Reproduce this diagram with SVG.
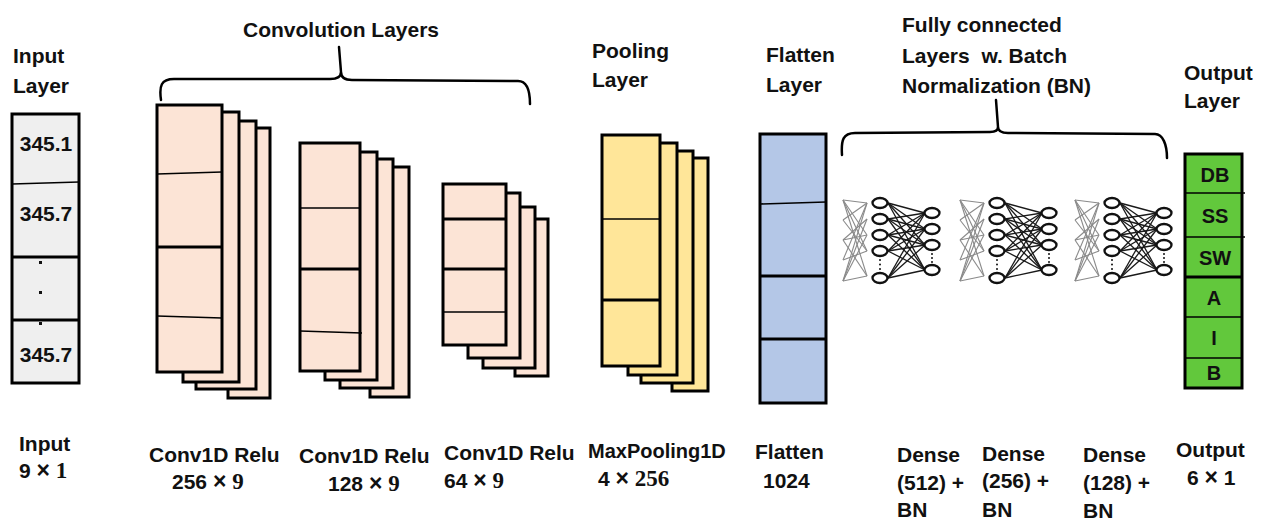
<svg xmlns="http://www.w3.org/2000/svg" xmlns:xlink="http://www.w3.org/1999/xlink" width="1264" height="522" viewBox="0 0 1264 522">
<style>
text{font-family:"Liberation Sans",Arial,sans-serif;font-weight:bold;font-size:21px;fill:#111}
.sr{font-family:"Liberation Serif","Times New Roman",serif;font-size:23px}
.x{font-size:23px}
.box{stroke:#000;stroke-width:3}
.conv{fill:#fce4d6}
.pool{fill:#ffe699}
.flat{fill:#b4c7e7}
.inp{fill:#efefef}
.out{fill:#62c83c}
.thin{stroke:#000;stroke-width:1.6}
.thick{stroke:#000;stroke-width:2.8}
.brace{fill:none;stroke:#000;stroke-width:2.5;stroke-linecap:round;stroke-linejoin:round}
.gf{stroke:#8a8a8a;stroke-width:1.1}
.df{stroke:#1a1a1a;stroke-width:1.3}
.neu{fill:#fff;stroke:#111;stroke-width:2.3}
.ol{font-size:20px;text-anchor:middle}
.il{text-anchor:middle}
</style>
<defs>
<g id="net">
<g class="gf">
<line x1="843" y1="200" x2="867" y2="203"/><line x1="843" y1="200" x2="867" y2="235"/><line x1="843" y1="200" x2="867" y2="276"/>
<line x1="843" y1="220" x2="867" y2="203"/><line x1="843" y1="220" x2="867" y2="251"/>
<line x1="843" y1="240" x2="867" y2="219"/><line x1="843" y1="240" x2="867" y2="235"/><line x1="843" y1="240" x2="867" y2="276"/>
<line x1="843" y1="260" x2="867" y2="203"/><line x1="843" y1="260" x2="867" y2="251"/>
<line x1="843" y1="281" x2="867" y2="219"/><line x1="843" y1="281" x2="867" y2="235"/><line x1="843" y1="281" x2="867" y2="276"/>
<line x1="843" y1="200" x2="867" y2="251"/><line x1="843" y1="281" x2="867" y2="203"/>
</g>
<g class="df">
<line x1="888" y1="203" x2="925" y2="213"/><line x1="888" y1="203" x2="925" y2="229"/><line x1="888" y1="203" x2="925" y2="245"/><line x1="888" y1="203" x2="925" y2="270"/>
<line x1="888" y1="219" x2="925" y2="213"/><line x1="888" y1="219" x2="925" y2="229"/><line x1="888" y1="219" x2="925" y2="245"/><line x1="888" y1="219" x2="925" y2="270"/>
<line x1="888" y1="235" x2="925" y2="213"/><line x1="888" y1="235" x2="925" y2="229"/><line x1="888" y1="235" x2="925" y2="245"/><line x1="888" y1="235" x2="925" y2="270"/>
<line x1="888" y1="251" x2="925" y2="213"/><line x1="888" y1="251" x2="925" y2="229"/><line x1="888" y1="251" x2="925" y2="245"/><line x1="888" y1="251" x2="925" y2="270"/>
<line x1="888" y1="278" x2="925" y2="213"/><line x1="888" y1="278" x2="925" y2="229"/><line x1="888" y1="278" x2="925" y2="245"/><line x1="888" y1="278" x2="925" y2="270"/>
</g>
<ellipse class="neu" cx="880" cy="203" rx="7.5" ry="5"/>
<ellipse class="neu" cx="880" cy="219" rx="7.5" ry="5"/>
<ellipse class="neu" cx="880" cy="235" rx="7.5" ry="5"/>
<ellipse class="neu" cx="880" cy="251" rx="7.5" ry="5"/>
<ellipse class="neu" cx="880" cy="278" rx="7.5" ry="5"/>
<circle cx="880" cy="260" r="1" fill="#111"/><circle cx="880" cy="264.5" r="1" fill="#111"/><circle cx="880" cy="269" r="1" fill="#111"/>
<ellipse class="neu" cx="932" cy="213" rx="7.5" ry="5"/>
<ellipse class="neu" cx="932" cy="229" rx="7.5" ry="5"/>
<ellipse class="neu" cx="932" cy="245" rx="7.5" ry="5"/>
<ellipse class="neu" cx="932" cy="270" rx="7.5" ry="5"/>
<circle cx="932" cy="254" r="1" fill="#111"/><circle cx="932" cy="258" r="1" fill="#111"/><circle cx="932" cy="262" r="1" fill="#111"/>
</g>
</defs>
<rect width="1264" height="522" fill="#fff"/>

<g id="input-layer">
<text x="13" y="63">Input</text>
<text x="13" y="93">Layer</text>
<rect class="box inp" x="12" y="114" width="67" height="269"/>
<line class="thin" x1="12" y1="184" x2="79" y2="182"/>
<line class="thick" x1="12" y1="257" x2="79" y2="257"/>
<line class="thick" x1="12" y1="320" x2="79" y2="320"/>
<text class="il" x="46" y="151">345.1</text>
<text class="il" x="46" y="221">345.7</text>
<rect x="39" y="261" width="3" height="3" fill="#111"/>
<rect x="39" y="291" width="3" height="3" fill="#111"/>
<rect x="39" y="322" width="3" height="3" fill="#111"/>
<text class="il" x="46" y="362">345.7</text>
<text x="19" y="451">Input</text>
<text x="19" y="478">9 <tspan class="x">×</tspan> <tspan class="sr">1</tspan></text>
</g>

<g id="conv1">
<rect class="box conv" x="228" y="128" width="42" height="270"/>
<rect class="box conv" x="196" y="121" width="60" height="268"/>
<rect class="box conv" x="183" y="112" width="56" height="270"/>
<rect class="box conv" x="157" y="105" width="65" height="267"/>
<line class="thin" x1="157" y1="174" x2="222" y2="172"/>
<line class="thick" x1="157" y1="247" x2="222" y2="247"/>
<line class="thin" x1="157" y1="316" x2="222" y2="318"/>
<text x="149" y="462">Conv1D Relu</text>
<text x="172" y="489">256 <tspan class="x">×</tspan> <tspan class="sr">9</tspan></text>
</g>

<g id="conv2">
<rect class="box conv" x="370" y="167" width="39" height="230"/>
<rect class="box conv" x="340" y="159" width="53" height="229"/>
<rect class="box conv" x="325" y="152" width="52" height="228"/>
<rect class="box conv" x="300" y="143" width="60" height="228"/>
<line class="thin" x1="300" y1="208" x2="360" y2="208"/>
<line class="thick" x1="300" y1="269" x2="360" y2="269"/>
<line class="thin" x1="300" y1="331" x2="362" y2="333"/>
<text x="299" y="463">Conv1D Relu</text>
<text x="328" y="491">128 <tspan class="x">×</tspan> <tspan class="sr">9</tspan></text>
</g>

<g id="conv3">
<rect class="box conv" x="515" y="219" width="33" height="157"/>
<rect class="box conv" x="483" y="207" width="52" height="161"/>
<rect class="box conv" x="468" y="193" width="52" height="165"/>
<rect class="box conv" x="443" y="184" width="63" height="161"/>
<line class="thick" x1="443" y1="219" x2="506" y2="219"/>
<line class="thick" x1="443" y1="269" x2="506" y2="269"/>
<line class="thin" x1="443" y1="312" x2="506" y2="312"/>
<text x="444" y="460">Conv1D Relu</text>
<text x="444" y="488">64 <tspan class="x">×</tspan> <tspan class="sr">9</tspan></text>
</g>

<g id="pooling">
<text x="592" y="58">Pooling</text>
<text x="592" y="87">Layer</text>
<rect class="box pool" x="672" y="158" width="36" height="233"/>
<rect class="box pool" x="641" y="151" width="52" height="232"/>
<rect class="box pool" x="628" y="143" width="49" height="232"/>
<rect class="box pool" x="602" y="135" width="58" height="231"/>
<line class="thin" x1="602" y1="219" x2="660" y2="219"/>
<line class="thick" x1="602" y1="300" x2="660" y2="300"/>
<text x="588" y="458" style="font-size:20px">MaxPooling1D</text>
<text x="598" y="486">4 <tspan class="x">×</tspan> <tspan class="sr">256</tspan></text>
</g>

<g id="flatten">
<text x="766" y="62">Flatten</text>
<text x="766" y="92">Layer</text>
<rect class="box flat" x="760" y="134" width="66" height="269"/>
<line class="thin" x1="760" y1="204" x2="826" y2="202"/>
<line class="thick" x1="760" y1="276" x2="826" y2="276"/>
<line class="thick" x1="760" y1="339" x2="826" y2="339"/>
<text x="755" y="459">Flatten</text>
<text x="763" y="488">1024</text>
</g>

<g id="fc-title">
<text x="902" y="32">Fully connected</text>
<text x="902" y="63" xml:space="preserve">Layers  w. Batch</text>
<text x="902" y="93">Normalization (BN)</text>
</g>

<g id="dense512">
<use xlink:href="#net" href="#net"/>
<text x="897" y="462">Dense</text>
<text x="897" y="490">(512) +</text>
<text x="897" y="517">BN</text>
</g>

<g id="dense256">
<use xlink:href="#net" href="#net" x="117"/>
<text x="982" y="461">Dense</text>
<text x="982" y="488">(256) +</text>
<text x="982" y="517">BN</text>
</g>

<g id="dense128">
<use xlink:href="#net" href="#net" x="232"/>
<text x="1083" y="462">Dense</text>
<text x="1083" y="490">(128) +</text>
<text x="1083" y="518">BN</text>
</g>

<g id="output">
<text x="1184" y="80">Output</text>
<text x="1184" y="108">Layer</text>
<rect class="box out" x="1185" y="154" width="57" height="234"/>
<line class="thin" x1="1185" y1="193" x2="1245" y2="193"/>
<line class="thin" x1="1185" y1="237" x2="1245" y2="237"/>
<line class="thick" x1="1185" y1="277" x2="1242" y2="277"/>
<line class="thin" x1="1185" y1="317" x2="1242" y2="317"/>
<line class="thin" x1="1185" y1="358" x2="1242" y2="358"/>
<text class="ol" x="1215" y="182">DB</text>
<text class="ol" x="1215" y="223">SS</text>
<text class="ol" x="1215" y="265">SW</text>
<text class="ol" x="1214" y="305">A</text>
<text class="ol" x="1214" y="345">I</text>
<text class="ol" x="1214" y="380">B</text>
<text x="1176" y="457">Output</text>
<text x="1187" y="485">6 <tspan class="x">×</tspan> 1</text>
</g>

<g id="braces">
<text x="243" y="37">Convolution Layers</text>
<path class="brace" d="M161,100 C159,86 161,79 174,79 L330,79 C337,79 341,77 341,72 L339,47 M341,72 C341,77 344,80 352,80 L518,81 C527,81 530,90 530,104"/>
<path class="brace" d="M842,155 C841,140 843,133 855,133 L990,132 C996,132 998,130 998,127 L996,100 M998,127 C998,131 1001,133 1008,133 L1155,134 C1163,134 1167,145 1167,158"/>
</g>
</svg>
